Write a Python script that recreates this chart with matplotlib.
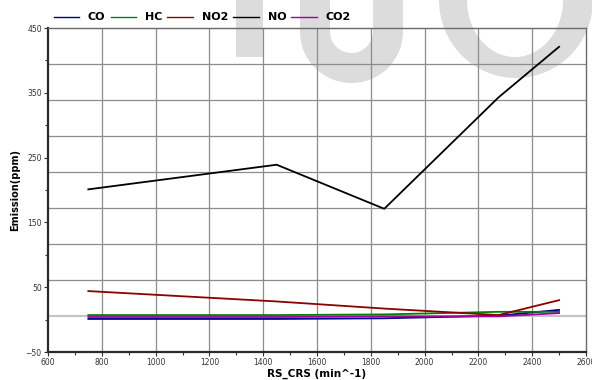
import numpy as np
import matplotlib.pyplot as plt
from matplotlib.patches import Rectangle, Wedge, Ellipse

# datos
rpm = [750, 1450, 1850, 2275, 2500]
co = [1, 1, 2, 6, 15]
hc = [7, 7, 8, 12, 12]
no2 = [44, 28, 17, 7, 30]
no = [201, 239, 171, 343, 421]
co2 = [4, 4, 5, 5, 10]

series = [("CO", co, "#00008b"), ("HC", hc, "#008000"), ("NO2", no2, "#8b0000"),
          ("NO", no, "#000000"), ("CO2", co2, "#a000a0")]

fig = plt.figure(figsize=(5.92, 3.8), dpi=100)

# marca de agua (formas grises detras del grafico, en pixeles)
bg = fig.add_axes([0, 0, 1, 1], zorder=0)
bg.set_xlim(0, 592)
bg.set_ylim(380, 0)
bg.axis("off")
gris = "#dcdcdc"
bg.add_patch(Rectangle((236, -5), 27, 62, color=gris, lw=0))
bg.add_patch(Wedge((351.5, 31.5), 51.5, 0, 180, width=30, color=gris, lw=0))
bg.add_patch(Rectangle((300, -5), 30, 36.5, color=gris, lw=0))
bg.add_patch(Rectangle((373, -5), 30, 36.5, color=gris, lw=0))
bg.add_patch(Ellipse((516, 0), 154, 156, color=gris, lw=0))
bg.add_patch(Ellipse((515, 0), 96, 114, color="white", lw=0))

ax = fig.add_axes([48/592, 1-352/380, 538/592, 324/380], zorder=1)
ax.set_facecolor("none")

ax.set_xlim(600, 2600)
ax.set_ylim(-50, 450)

# grilla: vertical en los ticks, horizontal en 9 partes
for xv in np.arange(800, 2600, 200):
    ax.axvline(xv, color="#8c8c8c", lw=0.9, zorder=1)
for k in range(1, 9):
    yv = -50 + k * 500 / 9
    if k == 1:
        ax.axhline(yv, color="#c4c4c4", lw=1.5, zorder=1)
    else:
        ax.axhline(yv, color="#8c8c8c", lw=0.9, zorder=1)

for nombre, vals, c in series:
    ax.plot(rpm, vals, color=c, lw=1.3, label=nombre, zorder=3)

ax.set_xticks(np.arange(600, 2601, 200))
ax.set_xticks(np.arange(700, 2600, 200), minor=True)
ax.set_yticks(np.arange(-50, 451, 100))
ax.set_yticks(np.arange(0, 450, 100), minor=True)
ax.tick_params(which="both", direction="out", labelsize=5.5, labelcolor="#333333",
               color="#333333", pad=1.5)
ax.tick_params(which="major", length=3, width=0.8)
ax.tick_params(which="minor", length=2, width=0.8)

for s in ["left", "bottom"]:
    ax.spines[s].set_linewidth(1.6)
    ax.spines[s].set_color("#2a2a2a")
for s in ["top", "right"]:
    ax.spines[s].set_linewidth(1.0)
    ax.spines[s].set_color("#6a6a6a")

ax.set_xlabel("RS_CRS (min^-1)", fontsize=7.5, fontweight="bold", labelpad=1)
ax.set_ylabel("Emission(ppm)", fontsize=7, fontweight="bold", labelpad=4)

leg = ax.legend(loc="lower left", bbox_to_anchor=(0.0, 1.0), ncol=5, frameon=False,
                prop={"weight": "bold", "size": 8}, handlelength=2.3,
                handletextpad=0.8, columnspacing=0.45, borderaxespad=0.3, borderpad=0.2)
for h in leg.get_lines():
    h.set_linewidth(1.0)

plt.savefig("out.png", dpi=100)
